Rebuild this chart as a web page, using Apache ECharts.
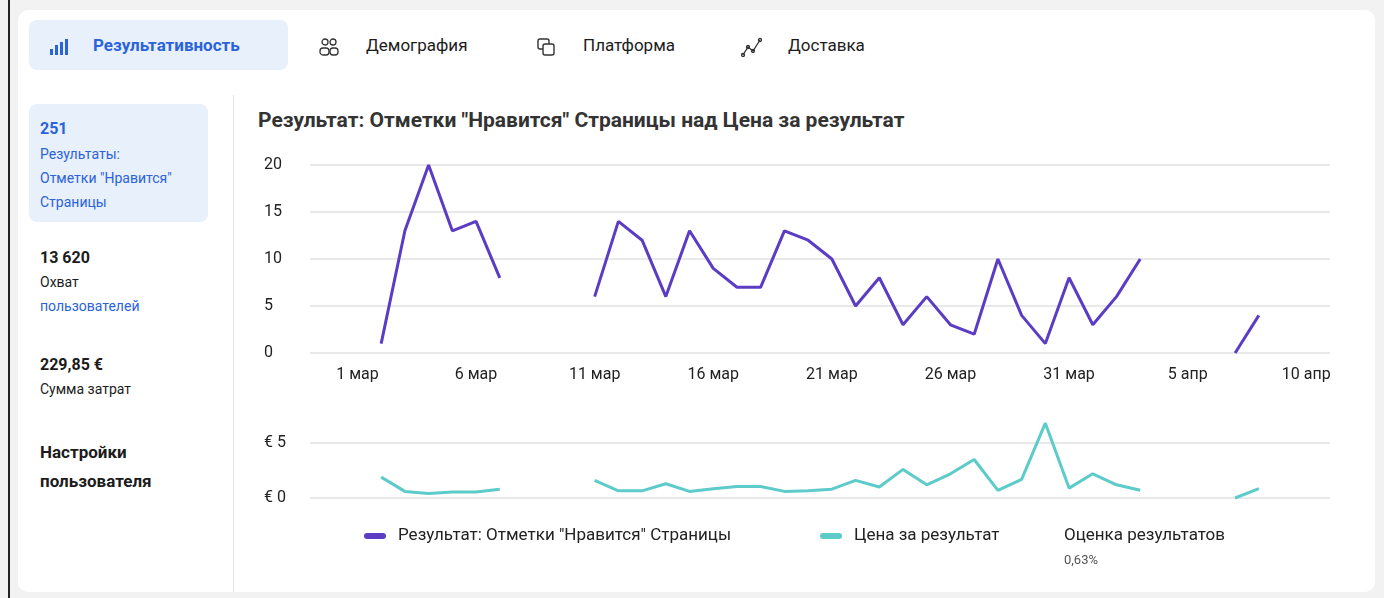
<!DOCTYPE html>
<html>
<head>
<meta charset="utf-8">
<script src="https://cdn.jsdelivr.net/npm/echarts@6/dist/echarts.min.js"></script>
<style>
body{margin:0;background:#f2f2f2;font-family:Roboto,"Noto Sans",sans-serif;width:1384px;height:598px;overflow:hidden;position:relative}
.card{position:absolute;left:18px;top:10px;width:1357px;height:582px;background:#fff;border-radius:10px}
.edge{position:absolute;left:8px;top:0;width:2px;height:598px;background:#222}
.tab{position:absolute;top:20px;height:50px;line-height:50px;font-size:17px;color:#1c1c1c}
.tab.on{left:29px;width:259px;background:#e8f0fc;border-radius:8px;color:#2b63d9;font-weight:bold}
.tab svg{vertical-align:middle;margin-right:18px}
.side{position:absolute;left:29px;width:179px;font-size:14px;color:#1c1c1c;line-height:24px}
.side b{font-size:16px}
.sep{position:absolute;left:233px;top:95px;width:1px;height:497px;background:#e4e4e4}
.title{position:absolute;left:258px;top:108px;font-size:21px;font-weight:bold;color:#333}
#chart{position:absolute;left:234px;top:140px;width:1146px;height:450px}
.leg{position:absolute;top:524px;font-size:17px;color:#222}
.leg i{display:inline-block;width:22px;height:6px;border-radius:3px;margin-right:12px;vertical-align:middle}
</style>
</head>
<body>
<div class="edge"></div>
<div class="card"></div>
<div class="tab on"><span style="margin-left:20px"><svg width="20" height="16" style="margin-right:24px"><rect x="1" y="10" width="3" height="6" fill="#2b63d9"/><rect x="6" y="6" width="3" height="10" fill="#2b63d9"/><rect x="11" y="3" width="3" height="13" fill="#2b63d9"/><rect x="16" y="0" width="3" height="16" fill="#2b63d9"/></svg>Результативность</span></div>
<div class="tab" style="left:318px"><svg width="22" height="20" fill="none" stroke="#333" stroke-width="1.3" style="margin-right:26px"><circle cx="7" cy="5" r="3"/><circle cx="15" cy="5" r="3"/><rect x="2" y="11" width="9" height="7" rx="3"/><rect x="12" y="11" width="8" height="7" rx="3"/></svg>Демография</div>
<div class="tab" style="left:536px"><svg width="20" height="20" fill="none" stroke="#333" stroke-width="1.4" style="margin-right:27px"><rect x="2" y="2" width="11" height="10" rx="2"/><rect x="7" y="7" width="11" height="11" rx="2" fill="#fff"/></svg>Платформа</div>
<div class="tab" style="left:741px"><svg width="22" height="20" fill="none" stroke="#333" stroke-width="1.3" style="margin-right:25px"><polyline points="2,18 7,10 12,14 19,3"/><circle cx="2" cy="18" r="1.5"/><circle cx="7" cy="10" r="1.5"/><circle cx="12" cy="14" r="1.5"/><circle cx="19" cy="3" r="1.5"/></svg>Доставка</div>

<div class="side" style="top:104px;height:118px;background:#e8f0fc;border-radius:8px;color:#2b63d9">
  <div style="padding:12px 11px;line-height:26px"><b>251</b><br><span style="font-size:14px;line-height:24px;display:block">Результаты:<br>Отметки "Нравится"<br>Страницы</span></div></div>
<div class="side" style="top:246px;left:40px"><b>13 620</b><br>Охват<br><span style="color:#2b63d9">пользователей</span></div>
<div class="side" style="top:353px;left:40px"><b>229,85 €</b><br>Сумма затрат</div>
<div class="side" style="top:438px;left:40px;font-size:17px;font-weight:bold;line-height:29px">Настройки<br>пользователя</div>
<div class="sep"></div>
<div class="title">Результат: Отметки "Нравится" Страницы над Цена за результат</div>
<div id="chart"></div>
<div class="leg" style="left:364px"><i style="background:#5b3cc4"></i>Результат: Отметки "Нравится" Страницы</div>
<div class="leg" style="left:820px"><i style="background:#5ccbc9"></i>Цена за результат</div>
<div class="leg" style="left:1064px">Оценка результатов<div style="font-size:13px;color:#555;margin-top:8px">0,63%</div></div>

<script>
var days = ['27 фев','28 фев',
  '1 мар','2 мар','3 мар','4 мар','5 мар','6 мар','7 мар','8 мар','9 мар','10 мар',
  '11 мар','12 мар','13 мар','14 мар','15 мар','16 мар','17 мар','18 мар','19 мар','20 мар',
  '21 мар','22 мар','23 мар','24 мар','25 мар','26 мар','27 мар','28 мар','29 мар','30 мар','31 мар',
  '1 апр','2 апр','3 апр','4 апр','5 апр','6 апр','7 апр','8 апр','9 апр','10 апр','11 апр'];
var tickLabels = ['1 мар','6 мар','11 мар','16 мар','21 мар','26 мар','31 мар','5 апр','10 апр'];
var likes = [null,null,null,1,13,20,13,14,8,null,null,null,
  6,14,12,6,13,9,7,7,13,12,10,5,8,3,6,3,2,10,4,1,8,3,6,10,
  null,null,null,0,4,null,null,null];
var cost = [null,null,null,1.9,0.6,0.4,0.55,0.55,0.8,null,null,null,
  1.6,0.65,0.65,1.3,0.6,0.85,1.05,1.05,0.6,0.65,0.8,1.6,1.0,2.6,1.2,2.2,3.5,0.7,1.7,6.8,0.9,2.2,1.2,0.7,
  null,null,null,0,0.85,null,null,null];

var myChart = echarts.init(document.getElementById('chart'));
var lbl = {color:'#222',fontSize:16,fontFamily:'Roboto'};
var option = {
  animation:false,
  grid:[{left:76,right:50,top:25,height:188},{left:76,right:50,top:303,height:55}],
  xAxis:[
    {type:'category',gridIndex:0,data:days,boundaryGap:false,
     axisLine:{show:false},axisTick:{show:false},
     axisLabel:Object.assign({margin:14,interval:function(i,v){return tickLabels.indexOf(v)>=0;}},lbl)},
    {type:'category',gridIndex:1,data:days,boundaryGap:false,
     axisLine:{show:false},axisTick:{show:false},axisLabel:{show:false}}
  ],
  yAxis:[
    {type:'value',gridIndex:0,min:0,max:20,interval:5,
     axisLabel:Object.assign({margin:46,align:'left'},lbl),
     splitLine:{lineStyle:{color:'#e2e2e2',width:1.5}}},
    {type:'value',gridIndex:1,min:0,max:5,interval:5,
     axisLabel:Object.assign({margin:46,align:'left',formatter:'€ {value}'},lbl),
     splitLine:{lineStyle:{color:'#e2e2e2',width:1.5}}}
  ],
  series:[
    {type:'line',xAxisIndex:0,yAxisIndex:0,data:likes,showSymbol:false,clip:false,
     lineStyle:{color:'#5b3cc4',width:3},itemStyle:{color:'#5b3cc4'}},
    {type:'line',xAxisIndex:1,yAxisIndex:1,data:cost,showSymbol:false,clip:false,
     lineStyle:{color:'#5ccbc9',width:3},itemStyle:{color:'#5ccbc9'}}
  ]
};
myChart.setOption(option);
</script>
</body>
</html>
